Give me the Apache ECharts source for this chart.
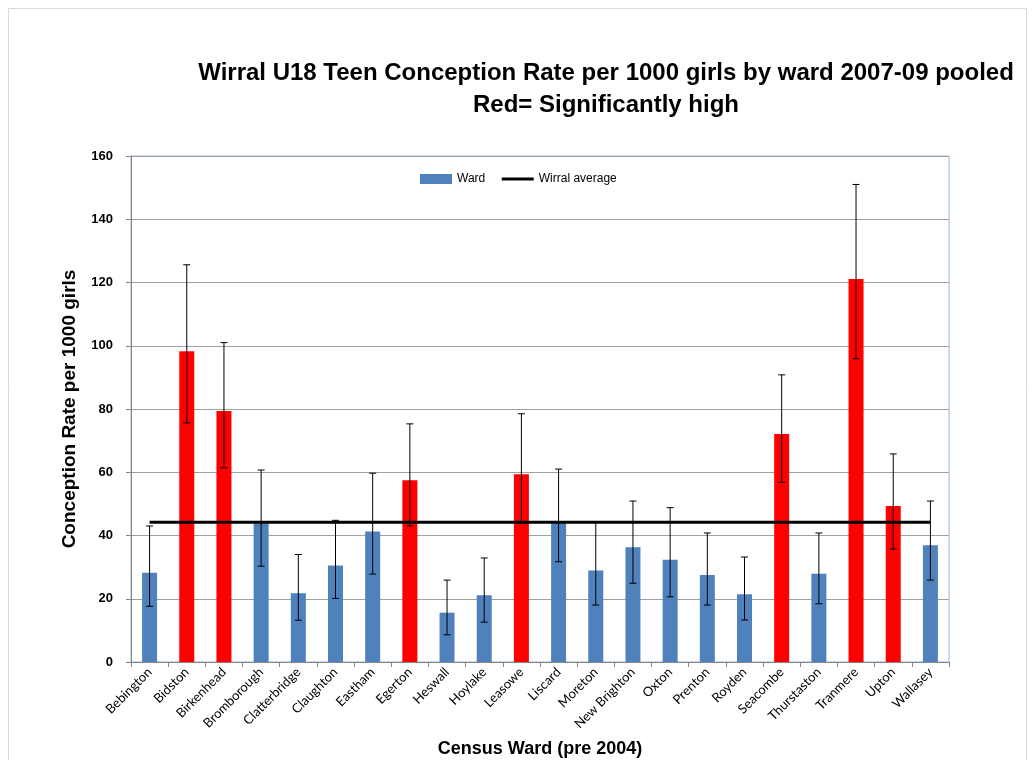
<!DOCTYPE html>
<html>
<head>
    <meta charset="utf-8">
    <script src="https://cdn.jsdelivr.net/npm/echarts@6/dist/echarts.min.js"></script>
    <style>
        body { margin: 0; background: #fff; }
    </style>
</head>
<body>
    <div id="main" style="width:1035px; height:760px;"></div>
</body>
	<script type="text/javascript">
		var wards = ['Bebington', 'Bidston', 'Birkenhead', 'Bromborough', 'Clatterbridge', 'Claughton',
			'Eastham', 'Egerton', 'Heswall', 'Hoylake', 'Leasowe', 'Liscard', 'Moreton', 'New Brighton',
			'Oxton', 'Prenton', 'Royden', 'Seacombe', 'Thurstaston', 'Tranmere', 'Upton', 'Wallasey'];
		var rates = [28.2, 98.3, 79.4, 43.9, 21.7, 30.5, 41.3, 57.5, 15.6, 21.1, 59.4,
			44.0, 28.9, 36.3, 32.3, 27.5, 21.4, 72.1, 27.9, 121.1, 49.3, 36.9];
		var lower = [17.6, 75.6, 61.4, 30.3, 13.2, 20.1, 27.8, 43.0, 8.6, 12.6, 44.0,
			31.7, 18.0, 24.9, 20.6, 18.0, 13.3, 56.8, 18.4, 95.9, 35.7, 25.9];
		var upper = [43.0, 125.6, 101.0, 60.7, 34.0, 44.8, 59.7, 75.3, 25.9, 32.9, 78.5,
			61.0, 44.4, 50.9, 48.8, 40.8, 33.2, 90.8, 40.8, 151.0, 65.8, 50.9];
		var sigHigh = [0, 1, 1, 0, 0, 0, 0, 1, 0, 0, 1, 0, 0, 0, 0, 0, 0, 1, 0, 1, 1, 0];
		var wirralAvg = 44.2;
		var yTicks = [0, 20, 40, 60, 80, 100, 120, 140, 160];

		var avgLine = wards.map(function () { return wirralAvg; });
		var errData = wards.map(function (w, i) { return [i, lower[i], upper[i]]; });

        var myChart = echarts.init(document.getElementById('main'));
      	option = {
			animation: false,
			textStyle: { fontFamily: 'Liberation Sans' },
			graphic: [{
				type: 'rect',
				shape: { x: 8.5, y: 8.5, width: 1018, height: 760 },
				style: { fill: 'none', stroke: '#d9d9d9', lineWidth: 1 },
				silent: true
			}],
			title: {
				text: 'Wirral U18 Teen Conception Rate per 1000 girls by ward 2007-09 pooled\nRed= Significantly high',
				left: 601,
				top: 52,
				textAlign: 'center',
				textStyle: { fontSize: 24, fontWeight: 'bold', color: '#000', lineHeight: 32, fontFamily: 'Liberation Sans' }
			},
			legend: {
				left: 415,
				top: 168,
				itemWidth: 32,
				itemHeight: 10,
				itemGap: 15,
				textStyle: { fontSize: 12, color: '#000' },
				data: [
					{ name: 'Ward', icon: 'rect', itemStyle: { color: '#4f81bd' } },
					{ name: 'Wirral average', itemStyle: { opacity: 0 }, lineStyle: { width: 3, color: '#000' } }
				]
			},
			grid: {
				left: 131, right: 86, top: 156, bottom: 98,
				outerBoundsMode: 'none',
				show: true, borderColor: '#95b3d7', borderWidth: 1
			},
			xAxis: {
				type: 'category',
				data: wards,
				name: 'Census Ward (pre 2004)',
				nameLocation: 'middle',
				nameGap: 78,
				nameTextStyle: { fontSize: 18, fontWeight: 'bold', color: '#000' },
				axisLine: { lineStyle: { color: '#868686', width: 1 } },
				axisTick: { show: true, length: 5, lineStyle: { color: '#868686' } },
				axisLabel: { rotate: 45, margin: 8, fontSize: 13, color: '#000', fontFamily: 'Lato', interval: 0 }
			},
			yAxis: {
				type: 'value',
				min: 0, max: 160, interval: 20,
				name: 'Conception Rate per 1000 girls',
				nameLocation: 'middle',
				nameGap: 52,
				nameTextStyle: { fontSize: 19, fontWeight: 'bold', color: '#000' },
				axisLine: { show: true, lineStyle: { color: '#868686', width: 1 } },
				axisTick: { show: true, length: 5, lineStyle: { color: '#868686' } },
				axisLabel: {
					fontSize: 13, fontWeight: 'bold', color: '#000', margin: 18,
					formatter: function (v) { return yTicks.indexOf(v) >= 0 ? String(v) : ''; }
				},
				splitLine: { lineStyle: { color: '#a0a0a0', width: 1 } }
			},
			series: [{
				name: 'Ward',
				type: 'bar',
				data: rates,
				barWidth: 15,
				itemStyle: {
					color: function (p) { return sigHigh[p.dataIndex] ? '#ff0000' : '#4f81bd'; }
				},
				z: 2
			}, {
				name: 'Wirral average',
				type: 'line',
				data: avgLine,
				symbol: 'none',
				lineStyle: { color: '#000', width: 3 },
				itemStyle: { color: '#000' },
				z: 3
			}, {
				name: 'err',
				type: 'custom',
				data: errData,
				z: 4,
				renderItem: function (params, api) {
					var x = api.coord([api.value(0), api.value(1)])[0];
					var lo = api.coord([api.value(0), api.value(1)])[1];
					var hi = api.coord([api.value(0), api.value(2)])[1];
					var cap = 3.5;
					var st = { stroke: '#000', lineWidth: 1 };
					return {
						type: 'group',
						children: [
							{ type: 'line', shape: { x1: x, y1: hi, x2: x, y2: lo }, style: st },
							{ type: 'line', shape: { x1: x - cap, y1: hi, x2: x + cap, y2: hi }, style: st },
							{ type: 'line', shape: { x1: x - cap, y1: lo, x2: x + cap, y2: lo }, style: st }
						]
					};
				}
			}]
		};
        myChart.setOption(option);
    </script>
</html>
